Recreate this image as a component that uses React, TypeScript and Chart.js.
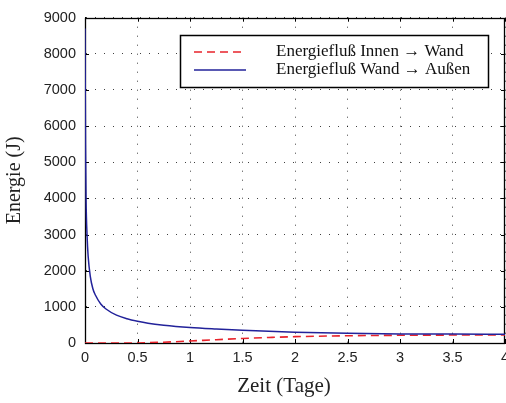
import React, { useEffect, useRef } from "react";
import { Chart, registerables } from "chart.js";

Chart.register(...registerables);

// Time in days
const times = [0, 0.0025, 0.005, 0.01, 0.02, 0.03, 0.05, 0.075, 0.1, 0.15, 0.2, 0.3, 0.4, 0.5, 0.6, 0.75, 1, 1.25, 1.5, 1.75, 2, 2.5, 3, 3.5, 4];
// Energy flow wall -> outside (J)
const wandAussen = [8700, 7000, 5500, 4000, 2950, 2400, 1850, 1500, 1320, 1080, 940, 770, 670, 600, 545, 490, 427, 385, 350, 322, 300, 268, 252, 246, 243];
// Energy flow inside -> wall (J)
const innenWand = [0, 0, 0, 0, 0, 0, 0, 0, 0, 0, 0, 0, 0, 2, 8, 22, 55, 92, 125, 152, 175, 200, 213, 220, 224];

const seriesLabels = ["Energiefluß Innen \u2192 Wand", "Energiefluß Wand \u2192 Außen"];
const xTicks = [0, 0.5, 1, 1.5, 2, 2.5, 3, 3.5, 4];
const yTicks = [0, 1000, 2000, 3000, 4000, 5000, 6000, 7000, 8000, 9000];
const xTitle = "Zeit (Tage)";
const yTitle = "Energie (J)";

const SERIF = "'Liberation Serif', 'Times New Roman', serif";

const boxPlugin = {
  id: "matlabBox",
  beforeDatasetsDraw(chart: any) {
    const { ctx, chartArea } = chart;
    const { left, right, top, bottom } = chartArea;
    ctx.save();
    ctx.strokeStyle = "#000";
    ctx.lineWidth = 1;
    ctx.setLineDash([]);
    const xs = chart.scales.x;
    const ys = chart.scales.y;
    ctx.beginPath();
    xTicks.forEach((v) => {
      const px = Math.round(xs.getPixelForValue(v)) + 0.5;
      ctx.moveTo(px, bottom);
      ctx.lineTo(px, bottom - 4);
      ctx.moveTo(px, top);
      ctx.lineTo(px, top + 4);
    });
    yTicks.forEach((v) => {
      const py = Math.round(ys.getPixelForValue(v)) + 0.5;
      ctx.moveTo(left, py);
      ctx.lineTo(left + 4, py);
      ctx.moveTo(right, py);
      ctx.lineTo(right - 4, py);
    });
    ctx.stroke();
    ctx.lineWidth = 1.3;
    ctx.strokeRect(Math.round(left) + 0.5, Math.round(top) + 0.5, Math.round(right - left) - 1, Math.round(bottom - top));
    ctx.restore();
  },
  afterDraw(chart: any) {
    const { ctx, chartArea } = chart;
    const { left, right, top } = chartArea;
    ctx.save();
    // legend
    const bw = 308;
    const bh = 52;
    const bx = Math.round(right) - 17 - bw;
    const by = Math.round(top) + 17;
    ctx.fillStyle = "#fff";
    ctx.fillRect(bx, by, bw, bh);
    ctx.lineWidth = 1.5;
    ctx.strokeStyle = "#000";
    ctx.setLineDash([]);
    ctx.strokeRect(bx + 0.5, by + 0.5, bw, bh);
    const ds = chart.data.datasets;
    ds.forEach((d: any, i: number) => {
      const cy = by + 17 + i * 18;
      ctx.beginPath();
      ctx.strokeStyle = d.borderColor;
      ctx.lineWidth = d.borderWidth;
      ctx.setLineDash(d.borderDash || []);
      ctx.moveTo(bx + 14, cy);
      ctx.lineTo(bx + 66, cy);
      ctx.stroke();
      ctx.setLineDash([]);
      ctx.fillStyle = "#111";
      ctx.font = "17px " + SERIF;
      ctx.textBaseline = "middle";
      ctx.textAlign = "left";
      ctx.fillText(d.label, bx + 96, cy);
    });
    // x-axis title
    ctx.fillStyle = "#222";
    ctx.font = "21px " + SERIF;
    ctx.textAlign = "center";
    ctx.textBaseline = "middle";
    ctx.fillText(xTitle, (left + right) / 2 - 11, 386);
    ctx.restore();
  },
};

export default function App() {
  const ref = useRef<HTMLCanvasElement | null>(null);
  useEffect(() => {
    if (!ref.current) return;
    const chart = new Chart(ref.current, {
      type: "line",
      data: {
        datasets: [
          {
            label: seriesLabels[0],
            data: times.map((t, i) => ({ x: t, y: innenWand[i] })),
            borderColor: "#e8232b",
            borderWidth: 1.6,
            borderDash: [8, 5],
            pointRadius: 0,
            cubicInterpolationMode: "monotone",
            fill: false,
            order: 2,
          },
          {
            label: seriesLabels[1],
            data: times.map((t, i) => ({ x: t, y: wandAussen[i] })),
            borderColor: "#22229a",
            borderWidth: 1.5,
            pointRadius: 0,
            cubicInterpolationMode: "monotone",
            fill: false,
            order: 1,
          },
        ],
      },
      options: {
        responsive: false,
        animation: false,
        layout: { padding: { top: 12, right: 1, left: 0, bottom: 0 } },
        plugins: {
          legend: { display: false },
          tooltip: { enabled: false },
        },
        scales: {
          x: {
            type: "linear",
            min: 0,
            max: 4,
            afterFit: (s: any) => {
              s.height = 60;
              s.paddingLeft = 0;
              s.paddingRight = 0;
            },
            afterBuildTicks: (s: any) => {
              s.ticks = xTicks.map((v) => ({ value: v }));
            },
            ticks: {
              autoSkip: false,
              maxRotation: 0,
              padding: 6,
              color: "#222",
              font: { family: "'Liberation Sans', Arial, sans-serif", size: 14.5 },
              callback: (v: any) => String(v),
            },
            grid: { color: "rgba(0,0,0,0.75)", lineWidth: 1, drawTicks: false },
            border: { display: true, color: "#000", width: 1, dash: [1, 8] },
            title: { display: false },
          },
          y: {
            type: "linear",
            min: 0,
            max: 9000,
            afterFit: (s: any) => {
              s.width = 85;
            },
            afterBuildTicks: (s: any) => {
              s.ticks = yTicks.map((v) => ({ value: v }));
            },
            ticks: {
              autoSkip: false,
              padding: 9,
              color: "#222",
              font: { family: "'Liberation Sans', Arial, sans-serif", size: 14.5 },
              callback: (v: any) => String(v),
            },
            grid: { color: "rgba(0,0,0,0.75)", lineWidth: 1, drawTicks: false },
            border: { display: true, color: "#000", width: 1, dash: [1, 8] },
            title: {
              display: true,
              text: yTitle,
              color: "#222",
              font: { family: SERIF, size: 20 },
              padding: { top: 3, bottom: 0 },
            },
          },
        },
      },
      plugins: [boxPlugin],
    } as any);
    return () => chart.destroy();
  }, []);
  return (
    <div style={{ position: "fixed", left: 0, top: 0, width: 506, height: 403, background: "#fff" }}>
      <canvas ref={ref} width={506} height={403} style={{ display: "block" }} />
    </div>
  );
}
